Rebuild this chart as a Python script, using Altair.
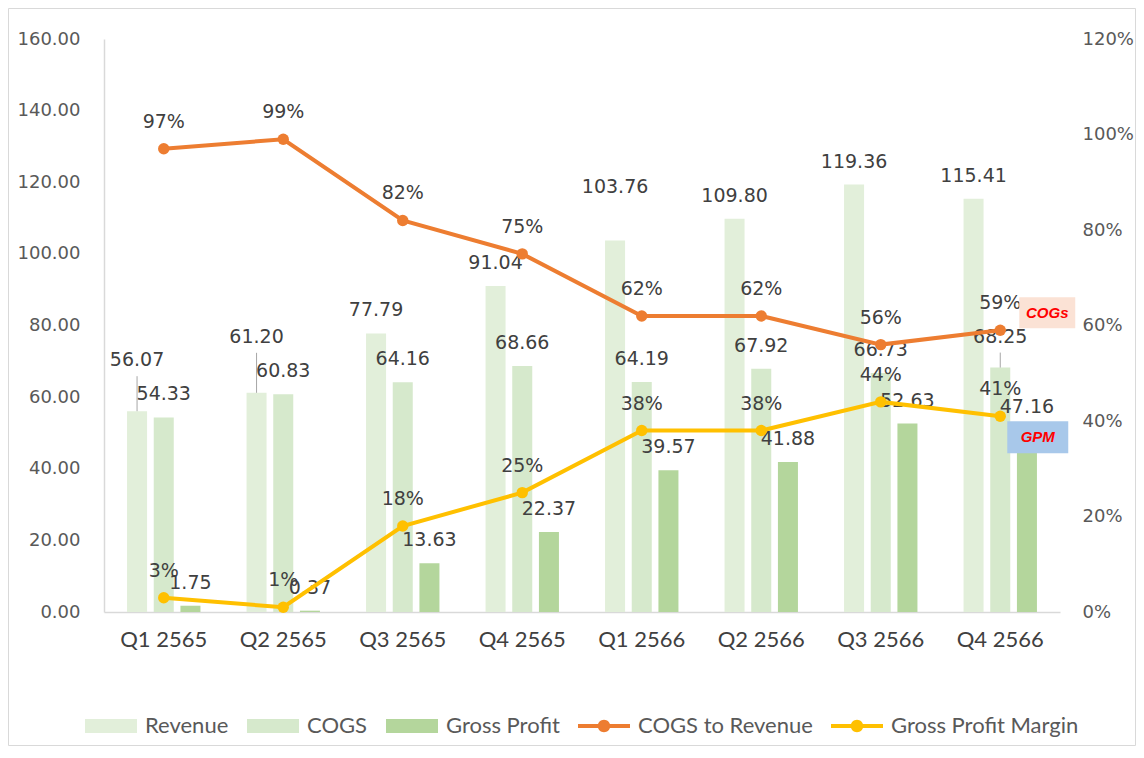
import altair as alt
import pandas as pd

# ---------------- data ----------------
quarters = ["Q1 2565", "Q2 2565", "Q3 2565", "Q4 2565",
            "Q1 2566", "Q2 2566", "Q3 2566", "Q4 2566"]
revenue = [56.07, 61.20, 77.79, 91.04, 103.76, 109.80, 119.36, 115.41]
cogs = [54.33, 60.83, 64.16, 68.66, 64.19, 67.92, 66.73, 68.25]
gross_profit = [1.75, 0.37, 13.63, 22.37, 39.57, 41.88, 52.63, 47.16]
cogs_to_revenue = [0.97, 0.99, 0.82, 0.75, 0.62, 0.62, 0.56, 0.59]
gross_profit_margin = [0.03, 0.01, 0.18, 0.25, 0.38, 0.38, 0.44, 0.41]

bar_series = ["Revenue", "COGS", "Gross Profit"]
line_series = ["COGS to Revenue", "Gross Profit Margin"]
all_series = bar_series + line_series
bar_colors = ["#E2EFDA", "#D6E9CC", "#B4D69C"]
line_colors = ["#ED7D31", "#FFC000"]
series_colors = bar_colors + line_colors

# extra label lift (px) for labels Excel moved away from the bar top
rev_label_lift = [28, 33, 0, 0, 30, 0, 0, 0]
cogs_label_lift = [0, 0, 0, 0, 0, 0, 0, 8]
gp_label_lift = [0, 0, 0, 0, 0, 0, 0, 13]
rev_leader = [1, 1, 0, 0, 0, 0, 0, 0]
cogs_leader = [0, 0, 0, 0, 0, 0, 0, 1]
gp_leader = [0, 0, 0, 0, 0, 0, 0, 0]

# ---------------- layout ----------------
PLOT_W, PLOT_H = 956, 573
Y_MAX = 160
PX = PLOT_H / Y_MAX

rows = []
for s, vals, lifts, leads in [("Revenue", revenue, rev_label_lift, rev_leader),
                               ("COGS", cogs, cogs_label_lift, cogs_leader),
                               ("Gross Profit", gross_profit, gp_label_lift, gp_leader)]:
    for q, v, l, ld in zip(quarters, vals, lifts, leads):
        rows.append({"quarter": q, "series": s, "value": v,
                     "label_y": v + l / PX, "leader_top": v + (l + 7) / PX,
                     "leader": ld})
bars_df = pd.DataFrame(rows)

lrows = []
for s, vals in [("COGS to Revenue", cogs_to_revenue),
                ("Gross Profit Margin", gross_profit_margin)]:
    for q, v in zip(quarters, vals):
        lrows.append({"quarter": q, "series": s, "value": v})
lines_df = pd.DataFrame(lrows)

annot_cogs = pd.DataFrame([{"quarter": quarters[-1], "value": cogs_to_revenue[-1]}])
annot_gpm = pd.DataFrame([{"quarter": quarters[-1], "value": gross_profit_margin[-1]}])

NUM_FONT = "DejaVu Sans"
CAT_FONT = "Lato"

x_enc = alt.X("quarter:N",
              scale=alt.Scale(domain=quarters, paddingInner=0.33, paddingOuter=0.165),
              axis=alt.Axis(title=None, labelAngle=0, labelFont=CAT_FONT, labelFontSize=22,
                            labelColor="#404040", labelPadding=17, ticks=False,
                            domainColor="#D9D9D9", domainWidth=1.5))
xoff = alt.XOffset("series:N",
                   scale=alt.Scale(domain=bar_series, paddingInner=0.25, paddingOuter=0.125))

left_scale = alt.Scale(domain=[0, Y_MAX], nice=False, zero=True)
right_scale = alt.Scale(domain=[0, 1.2], nice=False, zero=True)

y_left_axis = alt.Y("value:Q", scale=left_scale,
                    axis=alt.Axis(title=None, values=list(range(0, 161, 20)), format=".2f",
                                  labelFont=NUM_FONT, labelFontSize=18, labelColor="#595959",
                                  labelPadding=24, ticks=False, grid=False,
                                  domainColor="#D9D9D9", domainWidth=1.5))
y_right_axis = alt.Y("value:Q", scale=right_scale,
                     axis=alt.Axis(orient="right", title=None,
                                   values=[round(i * 0.2, 1) for i in range(7)], format=".0%",
                                   labelFont=NUM_FONT, labelFontSize=18, labelColor="#595959",
                                   labelPadding=22, ticks=False, domain=False, grid=False))
y_l = alt.Y("value:Q", scale=left_scale, axis=None)
y_r = alt.Y("value:Q", scale=right_scale, axis=None)

# ---------------- amounts (left axis) ----------------
base_b = alt.Chart(bars_df)
bars = base_b.mark_bar().encode(
    x=x_enc, xOffset=xoff, y=y_left_axis,
    fill=alt.Fill("series:N", scale=alt.Scale(domain=bar_series, range=bar_colors),
                  legend=None))
leaders = base_b.transform_filter("datum.leader == 1").mark_rule(
    color="#A6A6A6", strokeWidth=1).encode(
    x=x_enc, xOffset=xoff, y=y_l, y2="leader_top:Q")
bar_labels = base_b.mark_text(dy=-23, baseline="middle", font=NUM_FONT, fontSize=19,
                              color="#404040").encode(
    x=x_enc, xOffset=xoff,
    y=alt.Y("label_y:Q", scale=left_scale, axis=None),
    text=alt.Text("value:Q", format=".2f"))

legend_cfg = alt.Legend(title=None, orient="none", legendX=-19, legendY=661,
                        direction="horizontal", columns=5, symbolSize=2704,
                        labelFont=CAT_FONT, labelFontSize=22, labelColor="#595959",
                        labelOffset=8, columnPadding=18, padding=0,
                        symbolStrokeWidth=0, labelLimit=400)
rect_path = "M-1,-0.27H1V0.27H-1Z"
line_path = ("M-1,-0.075H1V0.075H-1Z "
             "M0.24,0A0.24,0.24 0 1 1 -0.24,0A0.24,0.24 0 1 1 0.24,0Z")
legend_layer = base_b.transform_filter("false").mark_point(
    filled=True, opacity=1, size=2704, strokeWidth=0).encode(
    x=x_enc, y=y_l,
    color=alt.Color("series:N", scale=alt.Scale(domain=all_series, range=series_colors),
                    legend=legend_cfg),
    shape=alt.Shape("series:N",
                    scale=alt.Scale(domain=all_series,
                                    range=[rect_path, rect_path, rect_path, line_path, line_path]),
                    legend=legend_cfg))

frame = alt.Chart(pd.DataFrame({"k": [0]})).mark_rect(
    fill="transparent", stroke="#D9D9D9", strokeWidth=1).encode(
    x=alt.value(-95.5), x2=alt.value(1031.5), y=alt.value(-30.5), y2=alt.value(706.5))

# ---------------- ratios (right axis) ----------------
base_l = alt.Chart(lines_df)
lines = base_l.mark_line(strokeWidth=4).encode(
    x=x_enc, y=y_right_axis,
    stroke=alt.Stroke("series:N", scale=alt.Scale(domain=line_series, range=line_colors),
                      legend=None))
point_layers = [
    base_l.transform_filter(alt.datum.series == s).mark_circle(
        size=130, opacity=1, color=c).encode(x=x_enc, y=y_r)
    for s, c in zip(line_series, line_colors)
]
pct_labels = base_l.mark_text(dy=-27, baseline="middle", font=NUM_FONT, fontSize=19,
                              color="#404040").encode(
    x=x_enc, y=y_r, text=alt.Text("value:Q", format=".0%"))

cogs_box = alt.Chart(annot_cogs).mark_point(
    shape="M0.38,-0.66H1.5V-0.04H0.38Z", size=10000, filled=True, fill="#FBE2D5",
    opacity=1, strokeWidth=0).encode(x=x_enc, y=y_r)
cogs_txt = alt.Chart(annot_cogs).mark_text(
    text="COGs", dx=47, dy=-17.5, baseline="middle", font="Liberation Sans",
    fontStyle="italic", fontWeight="bold", fontSize=15, color="#FF0000").encode(x=x_enc, y=y_r)
gpm_box = alt.Chart(annot_gpm).mark_point(
    shape="M0.14,0.1H1.36V0.74H0.14Z", size=10000, filled=True, fill="#A8C8EA",
    opacity=1, strokeWidth=0).encode(x=x_enc, y=y_r)
gpm_txt = alt.Chart(annot_gpm).mark_text(
    text="GPM", dx=37.5, dy=21, baseline="middle", font="Liberation Sans",
    fontStyle="italic", fontWeight="bold", fontSize=15, color="#FF0000").encode(x=x_enc, y=y_r)

# every layer has its own y scale (explicit domains keep them aligned);
# only bars carry the left axis and lines the right axis
chart = alt.layer(
    frame, bars, leaders, bar_labels, legend_layer,
    lines, *point_layers, pct_labels, cogs_box, cogs_txt, gpm_box, gpm_txt,
).resolve_scale(y="independent").properties(
    width=PLOT_W, height=PLOT_H,
    autosize=alt.AutoSizeParams(type="none"),
    padding={"left": 96, "top": 31, "right": 76, "bottom": 134},
    background="white",
).configure_view(strokeWidth=0)

chart.save("out.html", embed_options={"renderer": "svg", "actions": False})
